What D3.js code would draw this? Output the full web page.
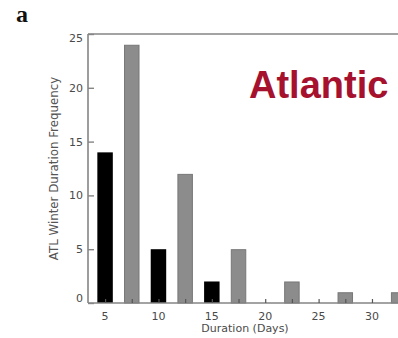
<!DOCTYPE html>
<html>
<head>
<meta charset="utf-8">
<script src="https://cdn.jsdelivr.net/npm/d3@7"></script>
<style>
html,body{margin:0;padding:0;background:#fff;overflow:hidden;}
svg{display:block;}
</style>
</head>
<body>
<svg id="chart" width="398" height="338"></svg>
<script>
// Data
const blackDurations = [5, 10, 15];
const blackCounts = [14, 5, 2];
const grayDurations = [7.5, 12.5, 17.5, 22.5, 27.5, 32.5];
const grayCounts = [24, 12, 5, 2, 1, 1];
const xTickValues = [5, 10, 15, 20, 25, 30];
const xMinorTicks = [7.5, 12.5, 17.5, 22.5, 27.5, 32.5];
const yTickValues = [0, 5, 10, 15, 20, 25];
const panelLabel = "a";
const regionLabel = "Atlantic";
const xTitle = "Duration (Days)";
const yTitle = "ATL Winter Duration Frequency";

const svg = d3.select("#chart");
const mLeft = 88, mRight = 404, mTop = 34, mBottom = 303;

const x = d3.scaleLinear().domain([3.4, 33]).range([mLeft, mRight]);
const y = d3.scaleLinear().domain([0, 25]).range([mBottom, mTop]);
const barW = x(3.4 + 1.45) - x(3.4);

const frameColor = "#858585";
const textColor = "#4a4a4a";

// bars
svg.append("g").selectAll("rect")
  .data(blackDurations.map((d, i) => ({d, v: blackCounts[i]})))
  .join("rect")
  .attr("x", d => x(d.d) - barW / 2)
  .attr("y", d => y(d.v))
  .attr("width", barW)
  .attr("height", d => y(0) - y(d.v))
  .attr("fill", "#000");

svg.append("g").selectAll("rect")
  .data(grayDurations.map((d, i) => ({d, v: grayCounts[i]})))
  .join("rect")
  .attr("x", d => x(d.d) - barW / 2 + 0.5)
  .attr("y", d => y(d.v) + 0.5)
  .attr("width", barW - 1)
  .attr("height", d => y(0) - y(d.v) - 0.5)
  .attr("fill", "#8c8c8c")
  .attr("stroke", "#777")
  .attr("stroke-width", 1);

// frame
svg.append("line").attr("x1", mLeft).attr("x2", mLeft).attr("y1", mTop).attr("y2", mBottom)
  .attr("stroke", frameColor).attr("stroke-width", 1.6);
svg.append("line").attr("x1", mLeft).attr("x2", 410).attr("y1", mTop).attr("y2", mTop)
  .attr("stroke", frameColor).attr("stroke-width", 1.6);
svg.append("line").attr("x1", mLeft).attr("x2", 410).attr("y1", mBottom).attr("y2", mBottom)
  .attr("stroke", frameColor).attr("stroke-width", 1.6);

// y ticks (inward)
const yAxis = d3.axisRight(y).tickValues(yTickValues).tickSize(6).tickFormat("");
const gy = svg.append("g").attr("transform", `translate(${mLeft},0)`).call(yAxis);
gy.select(".domain").remove();
gy.selectAll(".tick line").attr("stroke", frameColor).attr("stroke-width", 1.4);

svg.append("g").selectAll("text")
  .data(yTickValues)
  .join("text")
  .attr("x", 83)
  .attr("y", d => y(d) + (d === 0 ? -1 : d === 25 ? 8 : 4))
  .attr("text-anchor", "end")
  .attr("font-family", "DejaVu Sans, sans-serif")
  .attr("font-size", 11)
  .attr("fill", textColor)
  .text(d => d);

// x ticks (inward, drawn on top of bars)
const allXTicks = xTickValues.concat(xMinorTicks);
const xAxis = d3.axisTop(x).tickValues(allXTicks).tickSize(4).tickFormat("");
const gx = svg.append("g").attr("transform", `translate(0,${mBottom})`).call(xAxis);
gx.select(".domain").remove();
gx.selectAll(".tick line").attr("stroke", "#555").attr("stroke-width", 1.2);

svg.append("g").selectAll("text")
  .data(xTickValues)
  .join("text")
  .attr("x", d => x(d))
  .attr("y", 320)
  .attr("text-anchor", "middle")
  .attr("font-family", "DejaVu Sans, sans-serif")
  .attr("font-size", 11)
  .attr("fill", textColor)
  .text(d => d);

// axis titles
svg.append("text")
  .attr("x", 245).attr("y", 332)
  .attr("text-anchor", "middle")
  .attr("font-family", "DejaVu Sans, sans-serif")
  .attr("font-size", 11)
  .attr("fill", textColor)
  .text(xTitle);

svg.append("text")
  .attr("transform", "translate(58,168.5) rotate(-90)")
  .attr("text-anchor", "middle")
  .attr("font-family", "DejaVu Sans, sans-serif")
  .attr("font-size", 11.8)
  .attr("fill", "#555")
  .text(yTitle);

// panel label
svg.append("text")
  .attr("x", 16).attr("y", 22)
  .attr("font-family", "Liberation Serif, serif")
  .attr("font-weight", "bold")
  .attr("font-size", 24)
  .attr("fill", "#111")
  .text(panelLabel);

// region label
svg.append("text")
  .attr("x", 249).attr("y", 98)
  .attr("font-family", "Liberation Sans, Arial, sans-serif")
  .attr("font-weight", "bold")
  .attr("font-size", 38)
  .attr("fill", "#a6122e")
  .text(regionLabel);
</script>
</body>
</html>
